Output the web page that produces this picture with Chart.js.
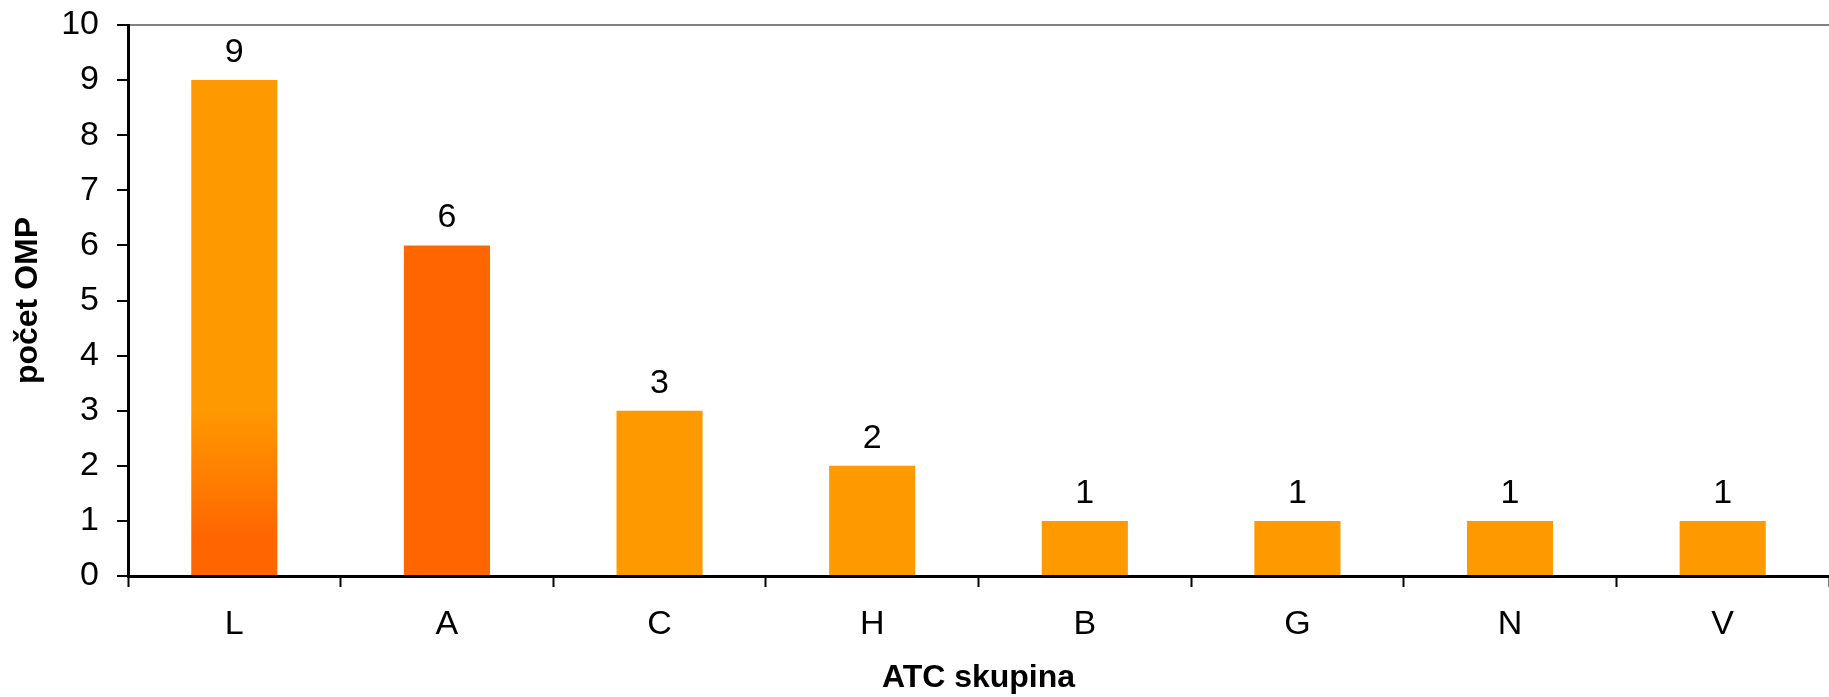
<!DOCTYPE html>
<html>
<head>
<meta charset="utf-8">
<script src="https://cdn.jsdelivr.net/npm/chart.js@4.4.0/dist/chart.umd.min.js"></script>
<style>
  html, body { margin: 0; padding: 0; background: #fff; }
  #wrap { width: 1829px; height: 697px; position: relative; }
</style>
</head>
<body>
<div id="wrap"><canvas id="atcChart" width="1829" height="697"></canvas></div>
<script>
// ===== Data =====
const categories = ['L', 'A', 'C', 'H', 'B', 'G', 'N', 'V'];
const counts = [9, 6, 3, 2, 1, 1, 1, 1];
const yMin = 0;
const yMax = 10;
const yStep = 1;

const ORANGE = '#FF9900';
const DARK_ORANGE = '#FF6600';
const FONT = '"Liberation Sans", Arial, sans-serif';

// bar colours: first bar fades into dark orange, second is dark orange
function barColor(ctx) {
    const chart = ctx.chart;
    if (ctx.dataIndex === 1) return DARK_ORANGE;
    if (ctx.dataIndex === 0 && chart.chartArea) {
        const y = chart.scales.y;
        const g = chart.ctx.createLinearGradient(0, y.getPixelForValue(3), 0, y.getPixelForValue(0.7));
        g.addColorStop(0, ORANGE);
        g.addColorStop(1, DARK_ORANGE);
        return g;
    }
    return ORANGE;
}

// value labels above the bars
const valueLabels = {
    id: 'valueLabels',
    afterDatasetsDraw(chart) {
        const ctx = chart.ctx;
        const meta = chart.getDatasetMeta(0);
        ctx.save();
        ctx.font = '34px ' + FONT;
        ctx.fillStyle = '#000';
        ctx.textAlign = 'center';
        ctx.textBaseline = 'alphabetic';
        meta.data.forEach((bar, i) => {
            ctx.fillText(String(counts[i]), bar.x, bar.y - 18);
        });
        ctx.restore();
    }
};

new Chart(document.getElementById('atcChart'), {
    type: 'bar',
    data: {
        labels: categories,
        datasets: [{
            data: counts,
            backgroundColor: barColor,
            borderWidth: 0,
            categoryPercentage: 1.0,
            barPercentage: 0.405
        }]
    },
    options: {
        responsive: false,
        animation: false,
        layout: { padding: { top: 25, right: 0, left: 0, bottom: 0 } },
        plugins: {
            legend: { display: false },
            tooltip: { enabled: false }
        },
        scales: {
            x: {
                afterFit(scale) { scale.height = 121; },
                grid: {
                    offset: true,
                    drawOnChartArea: false,
                    tickColor: '#000',
                    tickLength: 11,
                    tickWidth: 2
                },
                border: { color: '#000', width: 3 },
                ticks: {
                    color: '#000',
                    padding: 17,
                    font: { family: FONT, size: 34 }
                },
                title: {
                    display: true,
                    text: 'ATC skupina',
                    color: '#000',
                    padding: { top: 0, bottom: 0 },
                    font: { family: FONT, size: 32, weight: 'bold' }
                }
            },
            y: {
                min: yMin,
                max: yMax,
                afterFit(scale) {
                    scale.width = 128;
                    scale.paddingTop = 0;
                    scale.paddingBottom = 0;
                },
                grid: {
                    color: c => (c.tick && c.tick.value === yMax) ? '#808080' : 'rgba(0,0,0,0)',
                    lineWidth: 2,
                    tickColor: '#000',
                    tickLength: 11,
                    tickWidth: 2
                },
                border: { color: '#000', width: 3 },
                ticks: {
                    stepSize: yStep,
                    color: '#000',
                    padding: 18,
                    font: { family: FONT, size: 34 }
                },
                title: {
                    display: true,
                    text: 'počet OMP',
                    color: '#000',
                    padding: { top: 9, bottom: 0 },
                    font: { family: FONT, size: 32, weight: 'bold' }
                }
            }
        }
    },
    plugins: [valueLabels]
});
</script>
</body>
</html>
